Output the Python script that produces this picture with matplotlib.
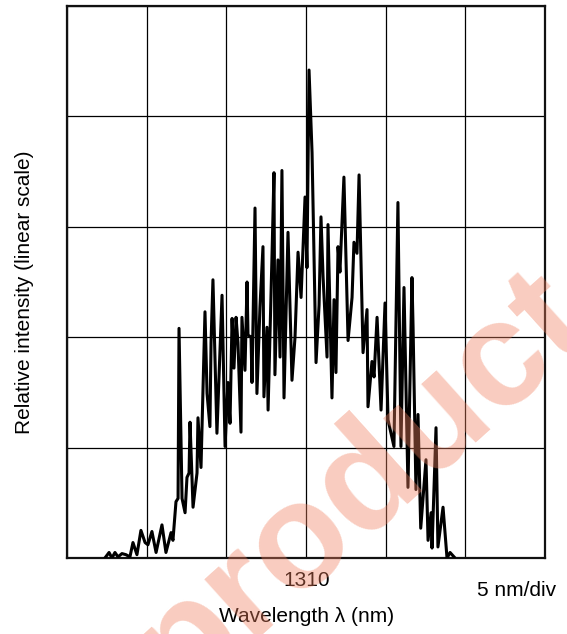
import matplotlib
matplotlib.use("Agg")
import matplotlib.pyplot as plt

plt.rcParams['font.family'] = ['Liberation Sans', 'DejaVu Sans']

# spectrum: wavelength (nm) and intensity (grid divisions)
wavelength_nm = [
    1297.38, 1297.64, 1297.82, 1298.01, 1298.20, 1298.45, 1298.70, 1298.95,
    1299.14, 1299.39, 1299.64, 1299.90, 1300.08, 1300.33, 1300.59, 1300.96,
    1301.21, 1301.53, 1301.65, 1301.84, 1301.97, 1302.03, 1302.22, 1302.41,
    1302.53, 1302.66, 1302.72, 1302.91, 1303.16, 1303.22, 1303.41, 1303.66,
    1303.79, 1303.97, 1304.04, 1304.16, 1304.41, 1304.73, 1304.92, 1305.10,
    1305.23, 1305.36, 1305.48, 1305.61, 1305.73, 1305.92, 1305.98, 1306.17,
    1306.30, 1306.36, 1306.55, 1306.61, 1306.80, 1306.92, 1307.11, 1307.30,
    1307.36, 1307.55, 1307.62, 1307.87, 1307.99, 1308.05, 1308.24, 1308.37,
    1308.49, 1308.62, 1308.87, 1309.12, 1309.31, 1309.50, 1309.69, 1309.94,
    1310.06, 1310.19, 1310.38, 1310.63, 1310.82, 1310.94, 1311.07, 1311.32,
    1311.38, 1311.63, 1311.76, 1311.88, 1312.01, 1312.13, 1312.38, 1312.64,
    1312.89, 1313.01, 1313.20, 1313.33, 1313.58, 1313.83, 1313.89, 1314.14,
    1314.27, 1314.46, 1314.71, 1314.96, 1315.15, 1315.52, 1315.77, 1315.96,
    1316.15, 1316.40, 1316.65, 1316.72, 1316.90, 1317.03, 1317.20, 1317.53,
    1317.66, 1317.85, 1317.91, 1318.16, 1318.28, 1318.60, 1318.85, 1319.04,
    1319.29,
]
intensity_div = [
    0.00, 0.05, 0.00, 0.05, 0.01, 0.04, 0.03, 0.01,
    0.14, 0.03, 0.25, 0.14, 0.12, 0.24, 0.05, 0.30,
    0.05, 0.23, 0.16, 0.51, 0.54, 2.08, 0.54, 0.41,
    0.73, 0.77, 1.23, 0.46, 0.77, 1.27, 0.82, 2.23,
    1.49, 1.19, 1.95, 2.52, 1.13, 2.38, 1.01, 1.59,
    1.22, 2.17, 1.72, 2.18, 1.95, 1.14, 2.18, 1.70,
    2.50, 2.02, 2.00, 1.59, 3.17, 1.49, 2.27, 2.82,
    1.46, 2.09, 1.34, 2.76, 3.49, 1.66, 2.70, 1.82,
    3.51, 1.45, 2.95, 1.61, 2.00, 2.77, 2.36, 3.27,
    2.63, 4.42, 3.67, 1.77, 2.29, 3.09, 2.55, 1.82,
    3.02, 1.45, 2.34, 1.68, 2.82, 2.59, 3.45, 1.97,
    2.36, 2.86, 2.76, 3.47, 1.86, 2.25, 1.37, 1.78,
    1.64, 2.18, 1.34, 2.31, 1.25, 1.01, 3.22, 1.01,
    2.45, 0.64, 2.54, 2.09, 0.62, 1.30, 0.27, 0.89,
    0.16, 0.41, 0.09, 1.18, 0.10, 0.46, 0.00, 0.05,
    0.01,
]

x_grid = [1295, 1300, 1305, 1310, 1315, 1320, 1325]
y_grid = [0, 1, 2, 3, 4, 5]

fig = plt.figure(figsize=(5.67, 6.34), dpi=100)
ax = fig.add_axes([67 / 567, 76 / 634, 478 / 567, 552 / 634])

ax.plot(wavelength_nm, intensity_div, color='black', linewidth=2.2, zorder=3)

ax.set_xlim(x_grid[0], x_grid[-1])
ax.set_ylim(y_grid[0], y_grid[-1])
ax.set_xticks(x_grid)
ax.set_yticks(y_grid)
ax.tick_params(length=0, labelbottom=False, labelleft=False)
ax.grid(True, color='black', linewidth=0.9)
for sp in ax.spines.values():
    sp.set_linewidth(1.6)
    sp.set_color('#111111')

fig.text(307 / 567, 1 - 581 / 634, '1310', ha='center', va='center', fontsize=15)
fig.text(517 / 567, 1 - 591 / 634, '5 nm/div', ha='center', va='center', fontsize=15)
fig.text(307 / 567, 1 - 617 / 634, 'Wavelength \u03bb (nm)', ha='center', va='center', fontsize=15)
fig.text(25 / 567, 1 - 292 / 634, 'Relative intensity (linear scale)', ha='center', va='center',
         rotation=90, fontsize=15)

# watermark, runs off the bottom and right edges as in the source
fig.text(388 / 567, 1 - 513 / 634, 'product', ha='center', va='baseline', rotation=42,
         rotation_mode='anchor', fontsize=108, fontweight='bold', color='#f08060', alpha=0.4,
         zorder=10)

fig.savefig('out.png', dpi=100)
